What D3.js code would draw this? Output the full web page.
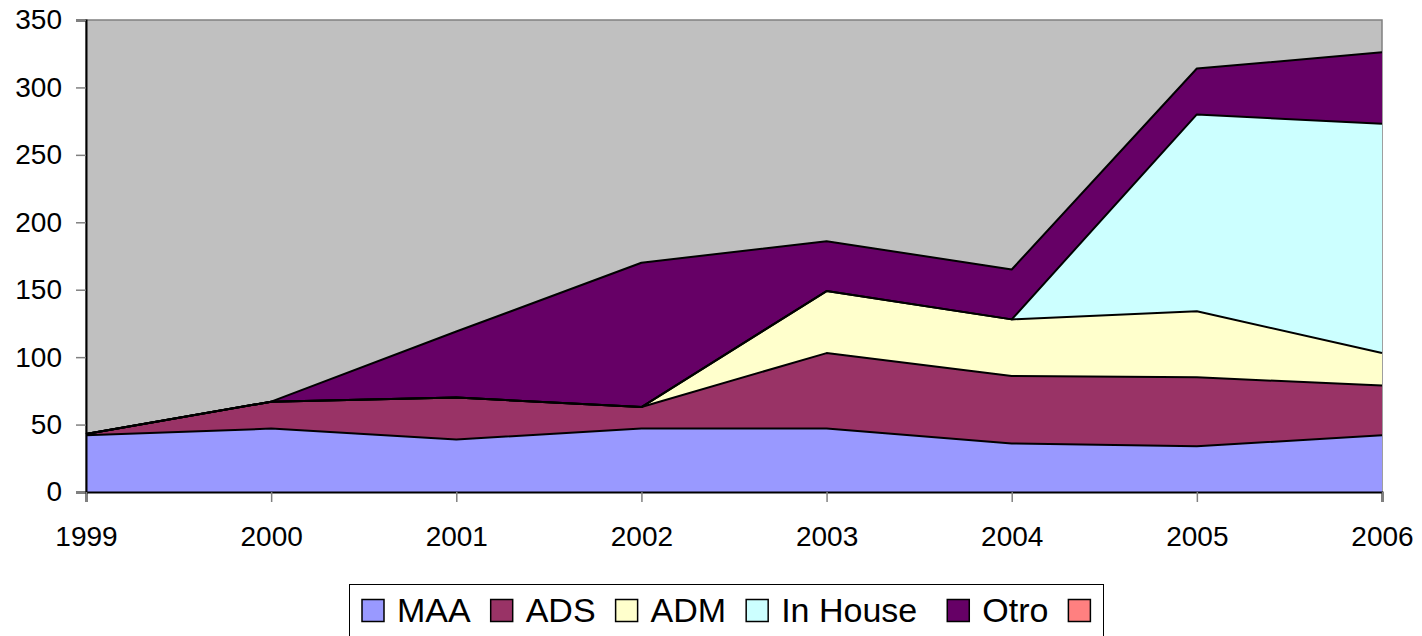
<!DOCTYPE html>
<html>
<head>
<meta charset="utf-8">
<script src="https://cdn.jsdelivr.net/npm/d3@7"></script>
<style>
  body { margin: 0; background: #fff; }
  text { font-family: "Liberation Sans", Arial, sans-serif; fill: #000; }
</style>
</head>
<body>
<div id="chart"></div>
<script>
// data
const years = [1999, 2000, 2001, 2002, 2003, 2004, 2005, 2006];
const MAA = [42, 47, 39, 47, 47, 36, 34, 42];
const ADS = [1, 20, 31, 16, 56, 50, 51, 37];
const ADM = [0, 0, 0, 0, 46, 42, 49, 24];
const InHouse = [0, 0, 0, 0, 0, 0, 146, 170];
const Otro = [0, 0, 49, 107, 37, 37, 34, 53];
const seriesNames = ["MAA", "ADS", "ADM", "In House", "Otro", ""];
const colors = ["#9999FF", "#993366", "#FFFFCC", "#CCFFFF", "#660066", "#FF8080"];
const yTicks = [0, 50, 100, 150, 200, 250, 300, 350];

const width = 1422, height = 636;
const margin = {top: 20, right: 40, bottom: 144, left: 86};

const rows = years.map((y, i) => ({
    year: y, MAA: MAA[i], ADS: ADS[i], ADM: ADM[i], "In House": InHouse[i], Otro: Otro[i]
}));
const keys = seriesNames.slice(0, 5);
const stacked = d3.stack().keys(keys)(rows);

const x = d3.scaleLinear(d3.extent(years), [margin.left, width - margin.right]);
const y = d3.scaleLinear([0, 350], [height - margin.bottom, margin.top]);

const svg = d3.select("#chart").append("svg")
    .attr("width", width)
    .attr("height", height)
    .attr("viewBox", [0, 0, width, height]);

// plot area
svg.append("rect")
    .attr("x", x.range()[0]).attr("y", y.range()[1])
    .attr("width", x.range()[1] - x.range()[0])
    .attr("height", y.range()[0] - y.range()[1])
    .attr("fill", "#C0C0C0")
    .attr("stroke", "#808080")
    .attr("stroke-width", 1.5);

const area = d3.area()
    .x(d => x(d.data.year))
    .y0(d => y(d[0]))
    .y1(d => y(d[1]));
const topLine = d3.line()
    .x(d => x(d.data.year))
    .y(d => y(d[1]));

svg.append("g").selectAll("path")
    .data(stacked)
    .join("path")
    .attr("fill", (d, i) => colors[i])
    .attr("d", area);

svg.append("g").selectAll("path")
    .data(stacked)
    .join("path")
    .attr("fill", "none")
    .attr("stroke", "#000")
    .attr("stroke-width", 2)
    .attr("stroke-linejoin", "round")
    .attr("d", topLine);

// y axis
svg.append("g")
    .attr("transform", `translate(${margin.left},0)`)
    .call(d3.axisLeft(y).tickValues(yTicks).tickSize(10).tickPadding(14).tickFormat(d3.format("d")))
    .call(g => g.select(".domain").attr("stroke", "#000").attr("stroke-width", 2))
    .call(g => g.selectAll(".tick line").attr("stroke", "#808080").attr("stroke-width", 1.5))
    .call(g => g.selectAll(".tick text").attr("font-size", 28).attr("font-family", "Liberation Sans, Arial, sans-serif"));

// x axis
svg.append("g")
    .attr("transform", `translate(0,${height - margin.bottom})`)
    .call(d3.axisBottom(x).tickValues(years).tickSize(10).tickPadding(24).tickFormat(d3.format("d")))
    .call(g => g.select(".domain").attr("stroke", "#000").attr("stroke-width", 2))
    .call(g => g.selectAll(".tick line").attr("stroke", "#808080").attr("stroke-width", 1.5))
    .call(g => g.selectAll(".tick text").attr("font-size", 28).attr("font-family", "Liberation Sans, Arial, sans-serif"));

// legend
const legend = svg.append("g");
legend.append("rect")
    .attr("x", 349.5).attr("y", 584.5)
    .attr("width", 754).attr("height", 70)
    .attr("fill", "#fff")
    .attr("stroke", "#000")
    .attr("stroke-width", 1);

let lx = 362;
seriesNames.forEach((name, i) => {
    legend.append("rect")
        .attr("x", lx).attr("y", 599.5)
        .attr("width", 22).attr("height", 22)
        .attr("fill", colors[i])
        .attr("stroke", "#000")
        .attr("stroke-width", 1.5);
    lx += 22 + 13;
    if (name) {
        const t = legend.append("text")
            .attr("x", lx).attr("y", 622)
            .attr("font-size", 34)
            .text(name);
        lx += t.node().getComputedTextLength() + 20;
        if (name === "In House") lx += 10;
    }
});
</script>
</body>
</html>
